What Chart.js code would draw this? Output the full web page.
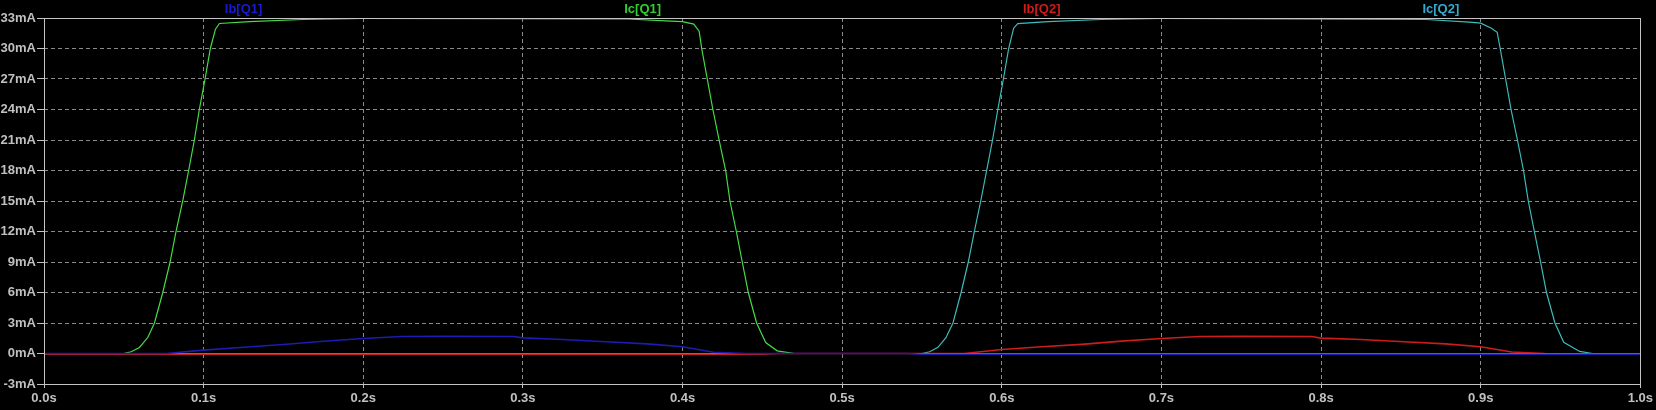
<!DOCTYPE html>
<html><head><meta charset="utf-8">
<script src="https://cdn.jsdelivr.net/npm/chart.js@4/dist/chart.umd.min.js"></script>
<style>html,body{margin:0;padding:0;background:#000;overflow:hidden}</style>
</head><body>
<canvas id="c" width="1656" height="410" style="width:1656px;height:410px;display:block"></canvas>
<script>
const seriesNames = ['Ib[Q1]', 'Ic[Q1]', 'Ib[Q2]', 'Ic[Q2]'];
const xTicks = [0, 0.1, 0.2, 0.3, 0.4, 0.5, 0.6, 0.7, 0.8, 0.9, 1.0];
const yTicks = [-3, 0, 3, 6, 9, 12, 15, 18, 21, 24, 27, 30, 33];

const timeIbQ1 = [0, 0.0765, 0.1, 0.125, 0.15, 0.175, 0.2, 0.224, 0.2495, 0.294, 0.3, 0.325, 0.352, 0.378, 0.4, 0.4194, 0.44, 0.54, 0.55, 1.0];
const ibQ1     = [0, 0, 0.33, 0.62, 0.89, 1.2, 1.48, 1.67, 1.68, 1.67, 1.54, 1.38, 1.15, 0.95, 0.66, 0.13, 0, 0, -0.08, -0.08];

const timeIcQ1 = [0, 0.05, 0.0546, 0.0598, 0.065, 0.0692, 0.0744, 0.079, 0.0827, 0.0869, 0.0906, 0.0942, 0.0973, 0.1009, 0.1042, 0.1074, 0.1099, 0.1286, 0.162, 0.2, 0.366, 0.3926, 0.4, 0.407, 0.4104, 0.412, 0.4155, 0.419, 0.4229, 0.427, 0.4297, 0.4337, 0.4374, 0.4412, 0.4464, 0.4521, 0.4593, 0.47, 1.0];
const icQ1     = [0, 0, 0.17, 0.59, 1.57, 3, 6, 9, 12, 15, 18, 21, 24, 27, 30, 31.9, 32.46, 32.65, 32.85, 32.95, 32.9, 32.7, 32.65, 32.4, 31.7, 30, 27, 24, 21, 18, 15, 12, 9, 6, 3, 1.08, 0.26, 0, 0];

const timeIbQ2 = [0, 0.45, 0.46, 0.5765, 0.6, 0.625, 0.65, 0.675, 0.7, 0.724, 0.75, 0.794, 0.8, 0.825, 0.852, 0.878, 0.9, 0.9194, 0.94, 1.0];
const ibQ2     = [-0.08, -0.08, 0, 0, 0.39, 0.66, 0.9, 1.22, 1.48, 1.67, 1.68, 1.67, 1.51, 1.38, 1.15, 0.95, 0.66, 0.15, 0, -0.05];

const timeIcQ2 = [0, 0.55, 0.5548, 0.56, 0.565, 0.5694, 0.5745, 0.579, 0.5828, 0.5868, 0.5905, 0.5942, 0.5975, 0.601, 0.6043, 0.6074, 0.61, 0.629, 0.662, 0.7, 0.866, 0.8929, 0.9, 0.9067, 0.9103, 0.9122, 0.9156, 0.919, 0.923, 0.9268, 0.9298, 0.9336, 0.9375, 0.9412, 0.9465, 0.952, 0.962, 0.97, 1.0];
const icQ2     = [0, 0, 0.17, 0.6, 1.55, 3, 6, 9, 12, 15, 18, 21, 24, 27, 30, 32.0, 32.45, 32.65, 32.85, 32.95, 32.85, 32.6, 32.5, 32.0, 31.6, 30, 27, 24, 21, 18, 15, 12, 9, 6, 3, 1.1, 0.2, 0, 0];

const lineColors  = ['#1c1cb0', '#44dd44', '#cc1c1c', '#3cbcbc'];
const labelColors = ['#1a1ad0', '#33cc33', '#d01a1a', '#33aacc'];

function pts(xs, ys) { return xs.map((x, i) => ({x: x, y: ys[i]})); }

const bgPlugin = {
  id: 'bg',
  beforeDraw(chart) {
    const ctx = chart.ctx;
    ctx.save(); ctx.fillStyle = '#000'; ctx.fillRect(0, 0, chart.width, chart.height); ctx.restore();
  },
  afterDraw(chart) {
    const ctx = chart.ctx, a = chart.chartArea;
    ctx.save();
    ctx.strokeStyle = '#c4c4c4'; ctx.lineWidth = 1; ctx.setLineDash([]);
    ctx.strokeRect(Math.round(a.left) + 0.5, Math.round(a.top) + 0.5, Math.round(a.right - a.left), Math.round(a.bottom - a.top));
    const w = (a.right - a.left) / 4;
    ctx.font = 'bold 13px "Liberation Sans", Arial, sans-serif';
    ctx.textAlign = 'center'; ctx.textBaseline = 'middle';
    seriesNames.forEach((n, i) => { ctx.fillStyle = labelColors[i]; ctx.fillText(n, a.left + w * (i + 0.5), 9); });
    ctx.restore();
  }
};

const series = [[timeIbQ1, ibQ1], [timeIcQ1, icQ1], [timeIbQ2, ibQ2], [timeIcQ2, icQ2]];
new Chart(document.getElementById('c'), {
  type: 'line',
  data: {
    datasets: series.map((s, i) => ({
      label: seriesNames[i],
      data: pts(s[0], s[1]),
      borderColor: lineColors[i],
      borderWidth: (i % 2 === 0) ? 1.6 : 1.2,
      pointRadius: 0,
      tension: 0,
      fill: false
    }))
  },
  options: {
    responsive: false,
    animation: false,
    devicePixelRatio: 1,
    layout: { padding: { top: 18, right: 14, left: 0, bottom: 0 } },
    plugins: { legend: { display: false }, tooltip: { enabled: false } },
    scales: {
      x: {
        type: 'linear', min: 0, max: 1,
        afterBuildTicks: s => { s.ticks = xTicks.map(v => ({value: v})); },
        afterFit: s => { s.height = 26; },
        ticks: {
          callback: v => v.toFixed(1) + 's',
          color: '#c0c0c0', font: { family: '"Liberation Sans", Arial, sans-serif', size: 13, weight: 'bold' },
          maxRotation: 0, autoSkip: false, padding: 3
        },
        grid: { color: '#8a8a8a', lineWidth: 1, tickLength: 4, tickColor: '#c4c4c4', drawTicks: true },
        border: { display: false, dash: [4, 3] }
      },
      y: {
        type: 'linear', min: -3, max: 33,
        afterBuildTicks: s => { s.ticks = yTicks.map(v => ({value: v})); },
        afterFit: s => { s.width = 44; },
        ticks: {
          callback: v => v + 'mA',
          color: '#c0c0c0', font: { family: '"Liberation Sans", Arial, sans-serif', size: 13, weight: 'bold' },
          padding: 1, autoSkip: false
        },
        grid: { color: '#8a8a8a', lineWidth: 1, tickLength: 7, tickColor: '#c4c4c4', drawTicks: true },
        border: { display: false, dash: [4, 3] }
      }
    }
  },
  plugins: [bgPlugin]
});
</script>
</body></html>
